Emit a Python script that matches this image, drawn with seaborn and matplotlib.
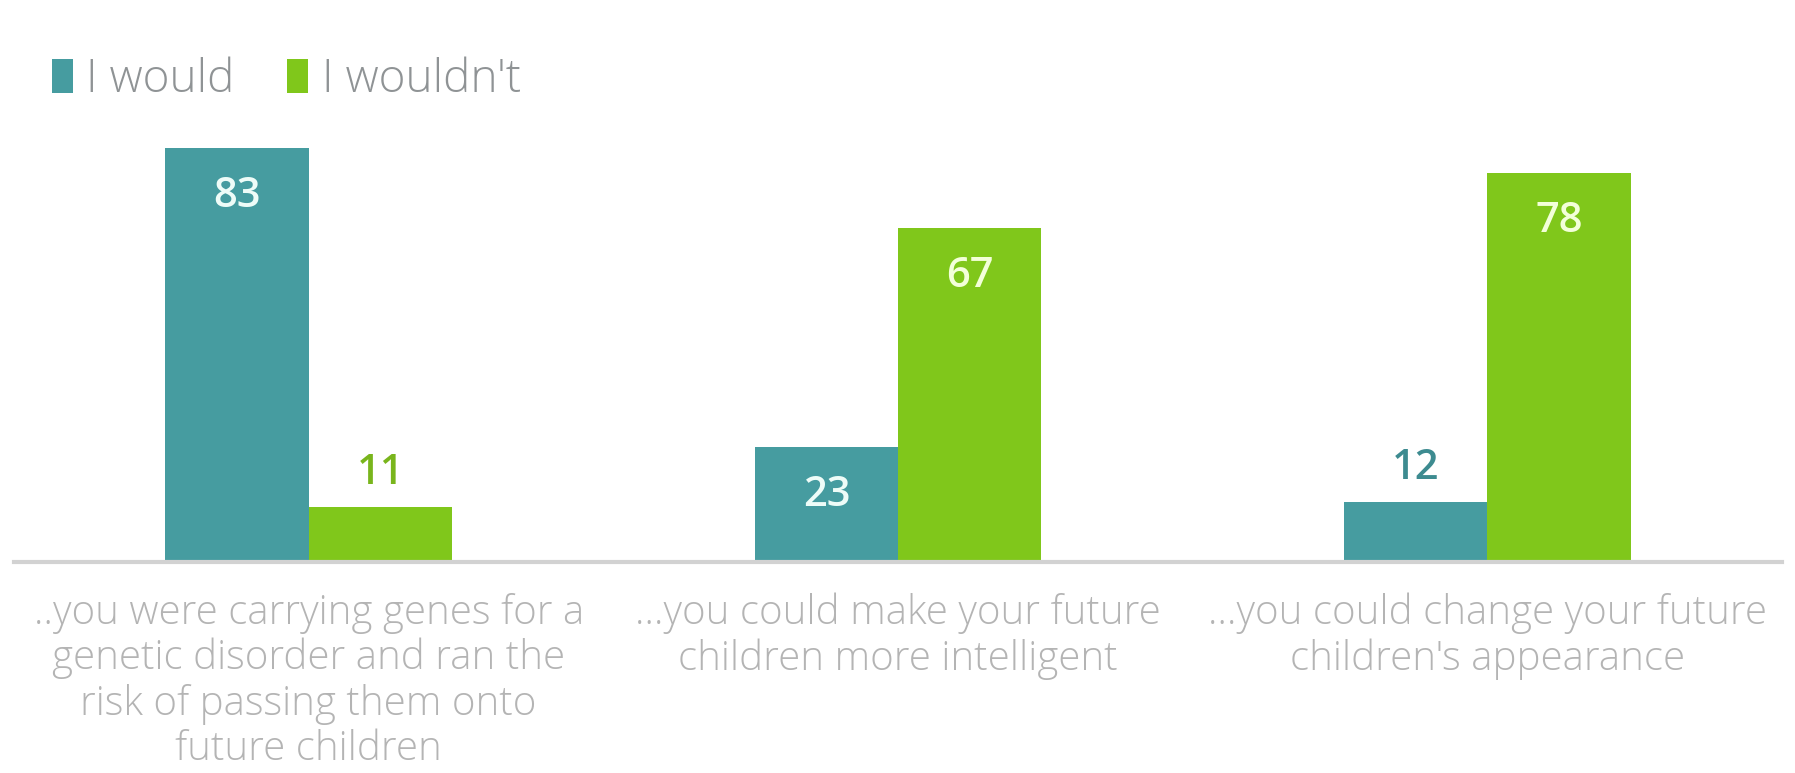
import matplotlib
matplotlib.use("Agg")
import matplotlib.pyplot as plt
import seaborn as sns
import pandas as pd

# Survey answers: "Would you use gene editing if..."
scenarios = [
    "..you were carrying genes for a\ngenetic disorder and ran the\nrisk of passing them onto\nfuture children",
    "...you could make your future\nchildren more intelligent",
    "...you could change your future\nchildren's appearance",
]
answers = ["I would", "I wouldn't"]
would = [83, 23, 12]
wouldnt = [11, 67, 78]

teal = "#469ca0"
green = "#80c71b"
palette = {"I would": teal, "I wouldn't": green}
inside_text = {"I would": "#eefcf8", "I wouldn't": "#f3ffd9"}
outside_text = {"I would": "#3d8b90", "I wouldn't": "#79b51c"}

df = pd.DataFrame({
    "scenario": scenarios * 2,
    "answer": [answers[0]] * 3 + [answers[1]] * 3,
    "value": would + wouldnt,
})

sns.set_theme(style="white")
plt.rcParams["font.family"] = ["Open Sans", "DejaVu Sans"]

fig = plt.figure(figsize=(17.95, 7.73), dpi=100)
ax = fig.add_axes([14 / 1795, 1 - 562 / 773, 1768 / 1795, 449 / 773])

sns.barplot(data=df, x="scenario", y="value", hue="answer", order=scenarios,
            hue_order=answers, palette=palette, width=0.486, linewidth=0,
            saturation=1, ax=ax, legend=True)

ax.set_xlim(-0.5, 2.5)
ax.set_ylim(0, 90)
ax.set_xlabel("")
ax.set_ylabel("")
ax.set_yticks([])
for side in ["top", "left", "right"]:
    ax.spines[side].set_visible(False)
ax.spines["bottom"].set_color("#d2d2d2")
ax.spines["bottom"].set_linewidth(3)
ax.tick_params(axis="x", length=0, pad=22)
for lbl in ax.get_xticklabels():
    lbl.set_fontsize(29)
    lbl.set_fontweight("light")
    lbl.set_color("#b4b4b4")
    lbl.set_linespacing(1.14)

# value labels: inside tall bars, above short ones
for container, answer in zip(ax.containers, answers):
    values = would if answer == "I would" else wouldnt
    for bar, v in zip(container, values):
        x = bar.get_x() + bar.get_width() / 2
        if v >= 20:
            ax.text(x, v - 9.6, f"{v}", ha="center", va="center", fontsize=30,
                    fontweight="semibold", color=inside_text[answer])
        else:
            ax.text(x, v + 6.8, f"{v}", ha="center", va="center", fontsize=30,
                    fontweight="semibold", color=outside_text[answer])

handles, labels = ax.get_legend_handles_labels()
ax.get_legend().remove()
leg = fig.legend(handles, labels, loc="center left",
                 bbox_to_anchor=(52 / 1795, 1 - 80 / 773), ncol=2, frameon=False,
                 fontsize=33, handlelength=0.45, handleheight=0.75,
                 handletextpad=0.3, columnspacing=1.15, borderpad=0,
                 borderaxespad=0)
for t in leg.get_texts():
    t.set_color("#8f9395")
    t.set_fontweight("light")

fig.savefig("out.png", dpi=100, facecolor="white")
